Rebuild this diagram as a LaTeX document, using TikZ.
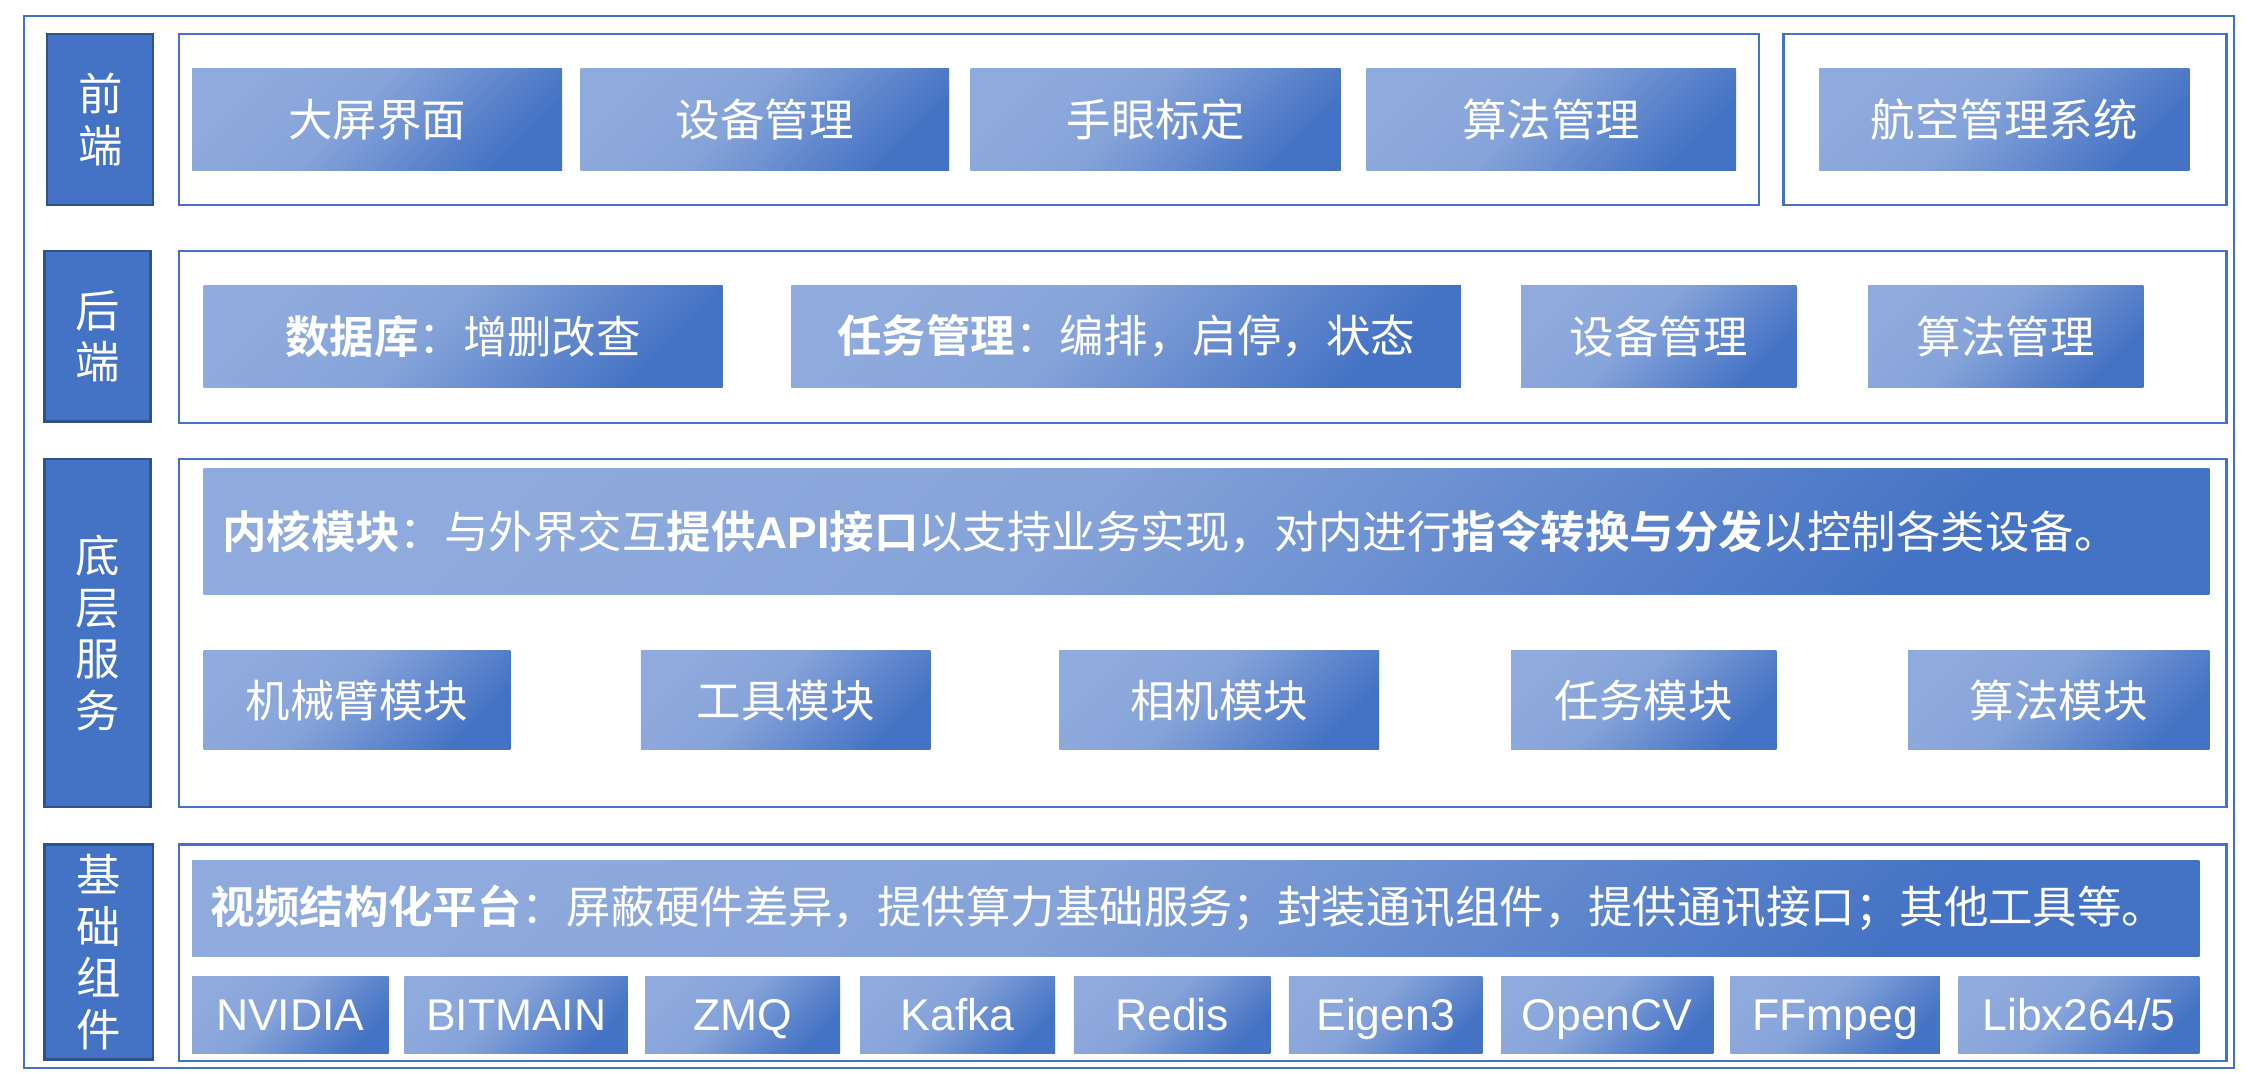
\documentclass[tikz,border=0pt]{standalone}
\usepackage{fontspec}
\setmainfont{Liberation Sans}
\newfontfamily\cjk{Noto Sans CJK SC}[BoldFont={Noto Sans CJK SC Bold}]
\newfontfamily\latin{Liberation Sans}
\definecolor{lb}{HTML}{8FAADC}
\definecolor{db}{HTML}{4472C4}
\definecolor{labfill}{HTML}{4472C4}
\definecolor{labdraw}{HTML}{2F528F}
\definecolor{frm}{HTML}{4472C4}
\pgfdeclarehorizontalshading{diagshade}{100bp}{color(0bp)=(lb); color(25bp)=(lb); color(45bp)=(lb!88!db); color(75bp)=(db); color(100bp)=(db)}
\tikzset{
  gbox/.style={shading=diagshade, shading angle=-45, draw=none, inner sep=0pt, outer sep=0pt, text=white, font=\cjk\fontsize{31}{36}\selectfont},
  frame/.style={draw=frm, line width=1.5pt, fill=none, inner sep=0pt, outer sep=0pt},
  labbox/.style={draw=labdraw, line width=1.5pt, fill=labfill, inner sep=0pt, outer sep=0pt, text=white, align=center, font=\cjk\fontsize{31}{36}\selectfont},
  libbox/.style={gbox, font=\latin\fontsize{31}{36}\selectfont, text height=26pt, text depth=4pt},
  bar/.style={gbox, align=left, inner xsep=13pt}
}
\newcommand\mkbox[7][]{\node[#1,minimum width={(#5-#3)*1pt},minimum height={(#6-#4)*1pt}] (#2) at ({(#3+#5)/2},{(#4+#6)/2}) {#7};}
\begin{document}
\begin{tikzpicture}[x=1pt,y=-1pt]
\useasboundingbox (0,0) rectangle (1568,749);
% outer frame
\mkbox[frame]{outer}{17}{11}{1558}{745}{}
% containers
\mkbox[frame]{c1a}{125}{24}{1227}{143}{}
\mkbox[frame]{c1b}{1244}{24}{1553}{143}{}
\mkbox[frame]{c2}{125}{175}{1553}{295}{}
\mkbox[frame]{c3}{125}{320}{1553}{563}{}
\mkbox[frame]{c4}{125}{589}{1553}{740}{}
% row labels
\mkbox[labbox]{l1}{33}{24}{107}{143}{前\\端}
\mkbox[labbox]{l2}{31}{175}{105}{294}{后\\端}
\mkbox[labbox]{l3}{31}{320}{105}{563}{底\\层\\服\\务}
\mkbox[labbox]{l4}{31}{589}{107}{739}{基\\础\\组\\件}
% row 1
\mkbox[gbox]{f1}{134}{48}{392}{119}{大屏界面}
\mkbox[gbox]{f2}{405}{48}{662}{119}{设备管理}
\mkbox[gbox]{f3}{677}{48}{935}{119}{手眼标定}
\mkbox[gbox]{f4}{953}{48}{1211}{119}{算法管理}
\mkbox[gbox]{f5}{1269}{48}{1527}{119}{航空管理系统}
% row 2
\mkbox[gbox]{b1}{142}{199}{504}{270}{{\bfseries 数据库}：增删改查}
\mkbox[gbox]{b2}{552}{199}{1019}{270}{{\bfseries 任务管理}：编排，启停，状态}
\mkbox[gbox]{b3}{1061}{199}{1253}{270}{设备管理}
\mkbox[gbox]{b4}{1303}{199}{1495}{270}{算法管理}
% row 3
\mkbox[{bar,text width=1373pt}]{kern}{142}{327}{1541}{415}{{\bfseries 内核模块}：与外界交互{\bfseries 提供{\latin API}接口}以支持业务实现，对内进行{\bfseries 指令转换与分发}以控制各类设备。}
\mkbox[gbox]{m1}{142}{454}{356}{523}{机械臂模块}
\mkbox[gbox]{m2}{447}{454}{649}{523}{工具模块}
\mkbox[gbox]{m3}{739}{454}{962}{523}{相机模块}
\mkbox[gbox]{m4}{1054}{454}{1239}{523}{任务模块}
\mkbox[gbox]{m5}{1331}{454}{1541}{523}{算法模块}
% row 4
\mkbox[{bar,text width=1374pt}]{plat}{134}{600}{1534}{667}{{\bfseries 视频结构化平台}：屏蔽硬件差异，提供算力基础服务；封装通讯组件，提供通讯接口；其他工具等。}
\mkbox[libbox]{x1}{134}{681}{271}{735}{NVIDIA}
\mkbox[libbox]{x2}{282}{681}{438}{735}{BITMAIN}
\mkbox[libbox]{x3}{450}{681}{586}{735}{ZMQ}
\mkbox[libbox]{x4}{600}{681}{736}{735}{Kafka}
\mkbox[libbox]{x5}{749}{681}{886}{735}{Redis}
\mkbox[libbox]{x6}{899}{681}{1034}{735}{Eigen3}
\mkbox[libbox]{x7}{1047}{681}{1195}{735}{OpenCV}
\mkbox[libbox]{x8}{1207}{681}{1353}{735}{FFmpeg}
\mkbox[libbox]{x9}{1366}{681}{1534}{735}{Libx264/5}
\end{tikzpicture}
\end{document}
